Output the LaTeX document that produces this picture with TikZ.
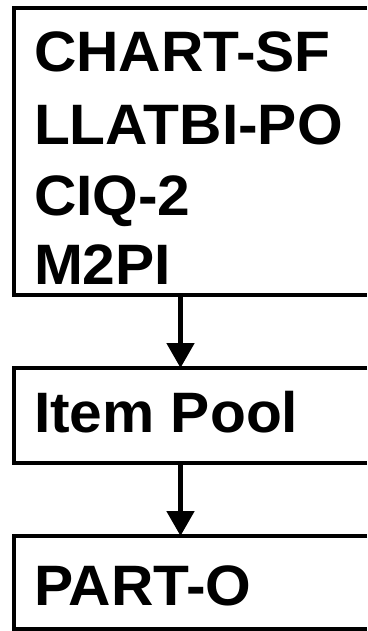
\documentclass[tikz,border=0pt]{standalone}
\usepackage{fontspec}
\setmainfont{Liberation Sans}[FakeStretch=1.03]
\usetikzlibrary{arrows.meta}
\tikzset{
  box/.style={draw=none, outer sep=0pt, inner sep=0pt,
    rectangle, anchor=north west, minimum width=353pt},
  frame/.style={line width=4.5pt},
  boxtext/.style={anchor=base west, inner sep=0pt, outer sep=0pt,
    font=\fontsize{57pt}{68pt}\selectfont\bfseries},
  flow/.style={line width=5pt, -{Triangle[width=27pt,length=25pt]}}
}
\begin{document}
\begin{tikzpicture}[x=1pt, y=1pt]
  \useasboundingbox (0,0) rectangle (367,-631);
  % three stacked boxes, open towards the right edge
  \node[box, minimum height=287pt] (src) at (14,-8) {};
  \node[box, minimum height=95pt] (pool) at (14,-368) {};
  \node[box, minimum height=93pt] (out) at (14,-536) {};
  \foreach \b in {src,pool,out}
    \draw[frame] (\b.north east) -- (\b.north west) -- (\b.south west) -- (\b.south east);
  % box texts
  \node[boxtext] (t1) at (34,-72) {CHART-SF};
  \node[boxtext] (t2) at (34,-145) {LLATBI-PO};
  \node[boxtext] (t3) at (34,-215) {CIQ-2};
  \node[boxtext] (t4) at (34,-284) {M2PI};
  \node[boxtext] (t5) at (34,-432) {Item Pool};
  \node[boxtext] (t6) at (34,-605) {PART-O};
  % connectors
  \coordinate (ax) at (180.5,0);
  \draw[flow] (src.south -| ax) -- (pool.north -| ax);
  \draw[flow] (pool.south -| ax) -- (out.north -| ax);
\end{tikzpicture}
\end{document}
